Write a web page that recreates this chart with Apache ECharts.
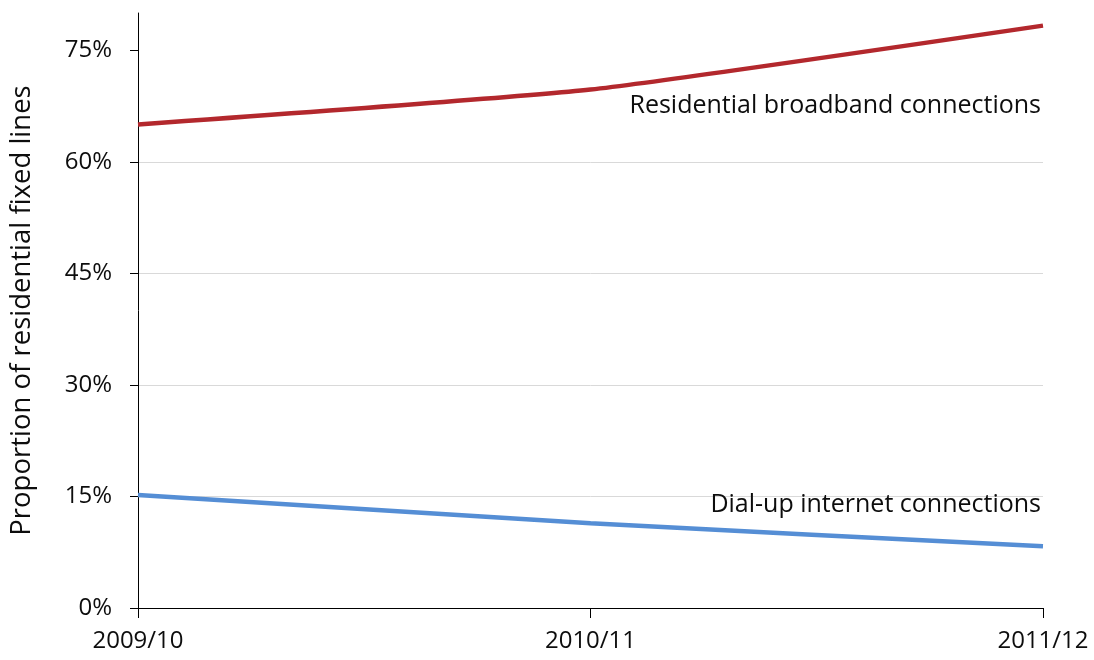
<!DOCTYPE html>
<html>
<head>
<meta charset="utf-8">
<script src="https://cdn.jsdelivr.net/npm/echarts@6/dist/echarts.min.js"></script>
<style>
html,body{margin:0;padding:0;background:#fff;}
#c{width:1094px;height:660px;}
</style>
</head>
<body>
<div id="c"></div>
<script>
var categories = ['2009/10', '2010/11', '2011/12'];
var broadband = [65.0, 69.7, 78.3];
var dialup = [15.2, 11.4, 8.3];
var yTicks = [0, 15, 30, 45, 60, 75];
var seriesNames = ['Residential broadband connections', 'Dial-up internet connections'];

var FONT = '"Open Sans", "Liberation Sans", sans-serif';
var TXT = '#0d0d0d';

function withEndLabel(values, text, offsetY) {
  return values.map(function (v, i) {
    if (i !== values.length - 1) return v;
    return {
      value: v,
      label: {
        show: true,
        formatter: text,
        position: 'inside',
        align: 'right',
        verticalAlign: 'middle',
        offset: [-2, offsetY],
        color: TXT,
        fontSize: 25,
        fontFamily: FONT
      }
    };
  });
}

var chart = echarts.init(document.getElementById('c'), null, {renderer: 'canvas'});
chart.setOption({
  animation: false,
  backgroundColor: '#fff',
  grid: {left: 138, right: 51, top: 13, bottom: 52, containLabel: false},
  xAxis: {
    type: 'category',
    data: categories,
    boundaryGap: false,
    axisLine: {lineStyle: {color: '#000', width: 1}},
    axisTick: {show: true, alignWithLabel: true, length: 10, lineStyle: {color: '#000'}},
    axisLabel: {color: TXT, fontSize: 24, fontFamily: FONT, margin: 21, interval: 0},
    splitLine: {show: false}
  },
  yAxis: {
    type: 'value',
    min: 0,
    max: 80,
    interval: 15,
    name: 'Proportion of residential fixed lines',
    nameLocation: 'middle',
    nameGap: 102,
    nameTextStyle: {color: TXT, fontSize: 27.5, fontFamily: FONT},
    axisLine: {show: true, lineStyle: {color: '#000', width: 1}},
    axisTick: {show: true, length: 8, lineStyle: {color: '#000'}, customValues: yTicks},
    axisLabel: {color: TXT, fontSize: 24, fontFamily: FONT, margin: 26,
      customValues: yTicks,
      formatter: function (v) { return v + '%'; }},
    splitLine: {show: true, showMaxLine: false, lineStyle: {color: '#d9d9d9', width: 1}}
  },
  series: [
    {
      name: seriesNames[0],
      type: 'line',
      data: withEndLabel(broadband, seriesNames[0], 80),
      smooth: 0.15,
      showSymbol: true,
      symbolSize: 0,
      symbol: 'circle',
      lineStyle: {color: '#B3282D', width: 4.5},
      itemStyle: {color: '#B3282D'},
      z: 3
    },
    {
      name: seriesNames[1],
      type: 'line',
      data: withEndLabel(dialup, seriesNames[1], -41),
      smooth: 0.15,
      showSymbol: true,
      symbolSize: 0,
      symbol: 'circle',
      lineStyle: {color: '#558ED5', width: 4.5},
      itemStyle: {color: '#558ED5'},
      z: 3
    }
  ]
});
</script>
</body>
</html>
